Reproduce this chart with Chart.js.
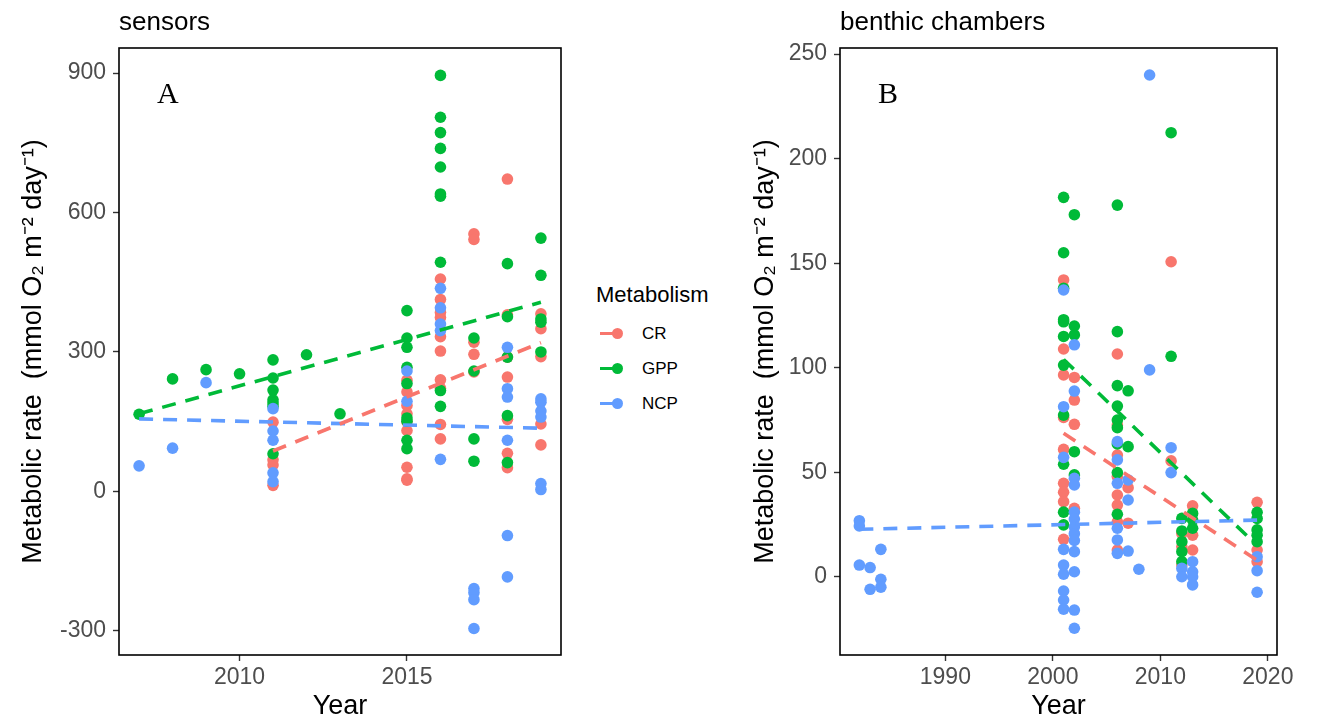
<!DOCTYPE html>
<html lang="en">
<head>
  <meta charset="UTF-8">
  <title>Metabolic rate - sensors vs benthic chambers</title>
  <script src="https://cdn.jsdelivr.net/npm/chart.js"></script>
  <style>
    body {
      margin: 0;
      width: 1328px;
      height: 720px;
      background: #ffffff;
      font-family: 'Liberation Sans', Arial, sans-serif;
      position: relative;
      overflow: hidden;
    }
    #chartA { position: absolute; left: 0; top: 0; }
    #chartB { position: absolute; left: 740px; top: 0; }
    /* legend */
    .legend {
      position: absolute;
      left: 596px;
      top: 280px;
      color: #000;
    }
    .legend-title {
      font-size: 22px;
      line-height: 30px;
      margin-bottom: 6px;
    }
    .legend-row {
      display: flex;
      align-items: center;
      height: 35px;
      font-size: 17px;
    }
    .key {
      position: relative;
      width: 22px;
      height: 12px;
      margin-left: 4px;
      margin-right: 20px;
    }
    .key .ln {
      position: absolute;
      left: 0; top: 4.5px;
      width: 20px; height: 3px;
    }
    .key .dot {
      position: absolute;
      left: 12px; top: 0;
      width: 11px; height: 11px;
      border-radius: 50%;
    }
  </style>
</head>
<body>
  <canvas id="chartA" width="585" height="720"></canvas>
  <canvas id="chartB" width="588" height="720"></canvas>
  <div class="legend" id="legend"></div>

  <script>
    const seriesNames = ['CR', 'GPP', 'NCP'];
    const seriesColors = ['#F8766D', '#00BA38', '#619CFF'];

    // ---- panel A : sensors ----
    const sensCRYears = [2011, 2011, 2011, 2011,
      2015, 2015, 2015, 2015, 2015, 2015, 2015, 2015, 2015,
      2016, 2016, 2016, 2016, 2016, 2016, 2016, 2016, 2016, 2016,
      2017, 2017, 2017, 2017, 2017,
      2018, 2018, 2018, 2018, 2018, 2018, 2018,
      2019, 2019, 2019, 2019, 2019];
    const sensCR = [149, 68, 57, 13,
      239, 214, 185, 167, 150, 131, 52, 27, 24,
      457, 413, 385, 374, 333, 302, 240, 222, 144, 113,
      554, 542, 321, 295, 257,
      672, 380, 289, 246, 155, 82, 51,
      382, 350, 290, 145, 100];

    const sensGPPYears = [2007, 2008, 2009, 2010,
      2011, 2011, 2011, 2011, 2011, 2011, 2011,
      2012, 2013,
      2015, 2015, 2015, 2015, 2015, 2015, 2015, 2015, 2015,
      2016, 2016, 2016, 2016, 2016, 2016, 2016, 2016, 2016, 2016,
      2017, 2017, 2017, 2017,
      2018, 2018, 2018, 2018, 2018,
      2019, 2019, 2019, 2019, 2019];
    const sensGPP = [166, 242, 262, 253,
      283, 244, 218, 197, 190, 183, 81,
      294, 167,
      389, 330, 310, 267, 232, 158, 151, 110, 92,
      895, 805, 772, 738, 698, 640, 635, 493, 217, 183,
      330, 259, 113, 65,
      490, 376, 289, 163, 62,
      545, 465, 371, 364, 300];

    const sensNCPYears = [2007, 2008, 2009,
      2011, 2011, 2011, 2011, 2011,
      2015, 2015,
      2016, 2016, 2016, 2016, 2016,
      2017, 2017, 2017, 2017,
      2018, 2018, 2018, 2018, 2018, 2018,
      2019, 2019, 2019, 2019, 2019, 2019];
    const sensNCP = [55, 93, 234,
      178, 130, 110, 40, 21,
      259, 194,
      437, 395, 360, 346, 69,
      -209, -218, -233, -295,
      310, 221, 203, 110, -95, -184,
      199, 192, 173, 160, 17, 4];

    // fitted trend lines (start / end)
    const sensTrendYears = [[2011, 2019], [2007, 2019], [2007, 2019]];
    const sensTrendValues = [[87, 320], [167, 407], [156, 136]];

    const sensXTicks = [2010, 2015];
    const sensYTicks = [-300, 0, 300, 600, 900];

    // ---- panel B : benthic chambers ----
    const chamCRYears = [2001, 2001, 2001, 2001, 2001, 2001, 2001, 2001, 2001,
      2002, 2002, 2002, 2002,
      2006, 2006, 2006, 2006, 2006, 2006, 2006, 2006,
      2007, 2007, 2011, 2011,
      2012, 2012, 2012, 2013, 2013, 2013,
      2019, 2019, 2019];
    const chamCR = [142, 109, 96.6, 76.3, 61, 44.8, 40.5, 36, 18,
      95.4, 84.6, 73, 32.8,
      106.6, 72.7, 58.3, 48, 39.2, 34.4, 26.4, 12.9,
      42.7, 25.7, 150.7, 55.5,
      20.8, 14.4, 5.7, 34, 20, 12.9,
      35.7, 12.9, 7.3];

    const chamGPPYears = [2001, 2001, 2001, 2001, 2001, 2001, 2001, 2001, 2001, 2001, 2001,
      2002, 2002, 2002, 2002, 2002,
      2006, 2006, 2006, 2006, 2006, 2006, 2006, 2006, 2006,
      2007, 2007, 2011, 2011,
      2012, 2012, 2012, 2012, 2012,
      2013, 2013, 2013,
      2019, 2019, 2019, 2019, 2019];
    const chamGPP = [181.5, 155, 138, 123, 122, 115, 101.3, 77.4, 53.9, 31, 24.9,
      173.2, 120, 115.7, 59.9, 48.8,
      177.8, 117.3, 91.5, 81.7, 75, 71.4, 63.6, 49.9, 30,
      89, 62.3, 212.4, 105.5,
      28, 22, 16.9, 12.1, 7.3,
      30.4, 27.2, 23.3,
      30.9, 28, 22.5, 20, 16.9];

    const chamNCPYears = [1982, 1982, 1982, 1983, 1983, 1984, 1984, 1984,
      2001, 2001, 2001, 2001, 2001, 2001, 2001, 2001, 2001,
      2002, 2002, 2002, 2002, 2002, 2002, 2002, 2002, 2002, 2002, 2002, 2002, 2002,
      2006, 2006, 2006, 2006, 2006, 2006,
      2007, 2007, 2007, 2008, 2009, 2009, 2011, 2011,
      2012, 2012, 2013, 2013, 2013, 2013,
      2019, 2019, 2019];
    const chamNCP = [26.9, 24.4, 5.7, 4.5, -5.9, 13.2, -1.1, -4.9,
      137.2, 81.4, 57.2, 13.2, 5.7, 1.3, -6.7, -11, -15.4,
      111, 88.9, 47.2, 44, 31, 27.7, 23.9, 20.7, 17.5, 12.1, 2.5, -15.8, -24.5,
      64.7, 56, 44.8, 23.3, 17.7, 11.3,
      46.4, 36.8, 12.4, 3.7, 240, 99, 61.8, 49.9,
      4.1, 0.1, 7.3, 2.5, 0.1, -3.8,
      9.7, 3, -7.3];

    const chamTrendYears = [[2001, 2019], [2001, 2019], [1982, 2019]];
    const chamTrendValues = [[68.7, 8], [104, 15], [22.8, 27.2]];

    const chamXTicks = [1990, 2000, 2010, 2020];
    const chamYTicks = [0, 50, 100, 150, 200, 250];

    const yTitle = 'Metabolic rate  (mmol O\u2082 m\u207B\u00B2 day\u207B\u00B9)';
    const sansFont = "'Liberation Sans', Arial, sans-serif";

    function toPoints(xs, ys) {
      return xs.map((x, i) => ({ x: x, y: ys[i] }));
    }

    // frame around the panel + panel letter
    const framePlugin = {
      id: 'frame',
      afterDraw(chart, args, opts) {
        const { ctx, chartArea: a } = chart;
        ctx.save();
        ctx.strokeStyle = '#000';
        ctx.lineWidth = 1.6;
        ctx.strokeRect(a.left, a.top, a.right - a.left, a.bottom - a.top);
        ctx.fillStyle = '#000';
        ctx.font = "30px 'Liberation Serif', 'Times New Roman', serif";
        ctx.textBaseline = 'alphabetic';
        ctx.fillText(opts.letter, a.left + 38, a.top + 55);
        ctx.restore();
      }
    };

    function makePanel(canvasId, cfg) {
      const datasets = [];
      for (let i = 0; i < 3; i++) {
        datasets.push({
          type: 'line',
          label: seriesNames[i] + ' trend',
          data: toPoints(cfg.trendYears[i], cfg.trendValues[i]),
          borderColor: seriesColors[i],
          borderWidth: 3.6,
          borderDash: [14, 10],
          pointRadius: 0,
          fill: false,
          order: 0
        });
      }
      for (let i = 0; i < 3; i++) {
        datasets.push({
          type: 'scatter',
          label: seriesNames[i],
          data: toPoints(cfg.years[i], cfg.values[i]),
          backgroundColor: seriesColors[i],
          borderWidth: 0,
          pointRadius: 5.8,
          pointHoverRadius: 5.8,
          order: 3 - i
        });
      }

      const gridOpts = {
        display: true,
        drawOnChartArea: false,
        drawTicks: true,
        tickLength: 6,
        tickColor: '#333333',
        tickWidth: 1.4
      };

      return new Chart(document.getElementById(canvasId), {
        type: 'scatter',
        data: { datasets: datasets },
        plugins: [framePlugin],
        options: {
          responsive: false,
          animation: false,
          events: [],
          layout: { padding: { left: 0, top: 0, right: cfg.padRight, bottom: 0 } },
          plugins: {
            legend: { display: false },
            tooltip: { enabled: false },
            title: {
              display: true,
              text: cfg.title,
              align: 'start',
              fullSize: false,
              color: '#000',
              font: { family: sansFont, size: 26, weight: 'normal', lineHeight: 1.2 },
              padding: { top: 7, bottom: 9.8 }
            },
            frame: { letter: cfg.letter }
          },
          scales: {
            x: {
              type: 'linear',
              min: cfg.xMin,
              max: cfg.xMax,
              afterBuildTicks: s => { s.ticks = cfg.xTicks.map(v => ({ value: v })); },
              afterFit: s => { s.height = 65; },
              ticks: {
                color: '#4D4D4D',
                font: { family: sansFont, size: 23 },
                padding: 3,
                maxRotation: 0,
                callback: v => String(v)
              },
              grid: gridOpts,
              border: { display: false },
              title: {
                display: true,
                text: 'Year',
                color: '#000',
                font: { family: sansFont, size: 27, lineHeight: 1 },
                padding: { top: 0, bottom: 0 }
              }
            },
            y: {
              type: 'linear',
              min: cfg.yMin,
              max: cfg.yMax,
              afterBuildTicks: s => { s.ticks = cfg.yTicks.map(v => ({ value: v })); },
              afterFit: s => { s.width = cfg.yWidth; },
              ticks: {
                color: '#4D4D4D',
                font: { family: sansFont, size: 23 },
                padding: 7,
                callback: v => String(v)
              },
              grid: gridOpts,
              border: { display: false },
              title: {
                display: true,
                text: yTitle,
                color: '#000',
                font: { family: sansFont, size: 27, lineHeight: 1 },
                padding: { top: cfg.yTitlePad, bottom: 0 }
              }
            }
          }
        }
      });
    }

    makePanel('chartA', {
      title: 'sensors',
      letter: 'A',
      years: [sensCRYears, sensGPPYears, sensNCPYears],
      values: [sensCR, sensGPP, sensNCP],
      trendYears: sensTrendYears,
      trendValues: sensTrendValues,
      xMin: 2006.4, xMax: 2019.6,
      yMin: -352, yMax: 954,
      xTicks: sensXTicks,
      yTicks: sensYTicks,
      yWidth: 119,
      yTitlePad: 20,
      padRight: 24
    });

    makePanel('chartB', {
      title: 'benthic chambers',
      letter: 'B',
      years: [chamCRYears, chamGPPYears, chamNCPYears],
      values: [chamCR, chamGPP, chamNCP],
      trendYears: chamTrendYears,
      trendValues: chamTrendValues,
      xMin: 1980.2, xMax: 2020.85,
      yMin: -37.3, yMax: 252.9,
      xTicks: chamXTicks,
      yTicks: chamYTicks,
      yWidth: 100,
      yTitlePad: 12,
      padRight: 51
    });

    // legend
    const legend = document.getElementById('legend');
    let html = '<div class="legend-title">Metabolism</div>';
    seriesNames.forEach((name, i) => {
      html += '<div class="legend-row"><span class="key">' +
        '<span class="ln" style="background:' + seriesColors[i] + '"></span>' +
        '<span class="dot" style="background:' + seriesColors[i] + '"></span>' +
        '</span>' + name + '</div>';
    });
    legend.innerHTML = html;
  </script>
</body>
</html>
